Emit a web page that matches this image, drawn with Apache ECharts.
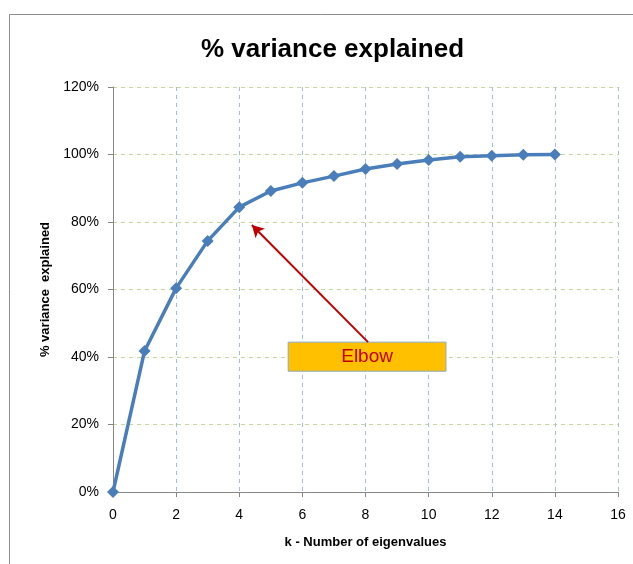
<!DOCTYPE html>
<html><head><meta charset="utf-8">
<script src="https://cdn.jsdelivr.net/npm/echarts@6/dist/echarts.min.js"></script>
<style>html,body{margin:0;padding:0;background:#fff}#c{width:633px;height:564px}</style>
</head><body><div id="c"></div>
<script>
const kValues = [0,1,2,3,4,5,6,7,8,9,10,11,12,13,14];
const varianceExplained = [0,41.8,60.4,74.4,84.4,89.2,91.6,93.6,95.7,97.2,98.4,99.3,99.6,99.9,100];
const arrowFrom = [8.08,44.4];
const arrowTo = [4.40,79.1];
const elbowBox = [[5.55,44.4],[10.55,35.8]];

const chart = echarts.init(document.getElementById('c'));
const font = 'Liberation Sans, Arial, sans-serif';
chart.setOption({
  animation:false,
  textStyle:{fontFamily:font},
  graphic:[{type:'rect',shape:{x:9.5,y:14.5,width:700,height:600},style:{fill:'none',stroke:'#8c8c8c',lineWidth:1},z:-1}],
  title:{text:'% variance explained',left:196,top:32,textStyle:{fontFamily:font,fontSize:26,fontWeight:'bold',color:'#000'}},
  grid:{left:113,right:15,top:87,bottom:72},
  xAxis:{type:'value',min:0,max:16,interval:2,
    name:'k - Number of eigenvalues',nameLocation:'middle',nameGap:44,
    nameTextStyle:{fontWeight:'bold',fontSize:13,color:'#000',fontFamily:font},
    axisLine:{lineStyle:{color:'#868686'}},
    axisTick:{show:true,length:5,lineStyle:{color:'#868686'}},
    axisLabel:{color:'#000',fontSize:14,margin:16},
    splitLine:{show:true,lineStyle:{color:'#9dbde6',type:[4,4],width:1}}},
  yAxis:{type:'value',min:0,max:120,interval:20,
    name:'% variance  explained',nameLocation:'middle',nameGap:61,
    nameTextStyle:{fontWeight:'bold',fontSize:13,color:'#000',fontFamily:font},
    axisLine:{show:true,lineStyle:{color:'#868686'}},
    axisTick:{show:true,length:5,lineStyle:{color:'#868686'}},
    axisLabel:{color:'#000',fontSize:14,margin:14,formatter:v=>v+'%'},
    splitLine:{show:true,lineStyle:{color:'#c8d89c',type:[4,4],width:1}}},
  series:[{type:'line',data:kValues.map((k,i)=>[k,varianceExplained[i]]),
    lineStyle:{color:'#4a7ebb',width:3.5},
    itemStyle:{color:'#4a7ebb'},
    symbol:'diamond',symbolSize:12,showAllSymbol:true,
    markLine:{silent:true,symbol:['none','arrow'],symbolSize:[10,12],
      lineStyle:{color:'#c00000',width:2,type:'solid'},label:{show:false},
      data:[[{coord:arrowFrom},{coord:arrowTo}]]},
    markArea:{silent:true,
      itemStyle:{color:'#ffc000',borderColor:'#8eaabf',borderWidth:1},
      label:{show:true,position:'inside',color:'#c00000',fontSize:19,fontFamily:font},
      data:[[{coord:elbowBox[0],name:'Elbow'},{coord:elbowBox[1]}]]}
  }]
});
</script></body></html>
